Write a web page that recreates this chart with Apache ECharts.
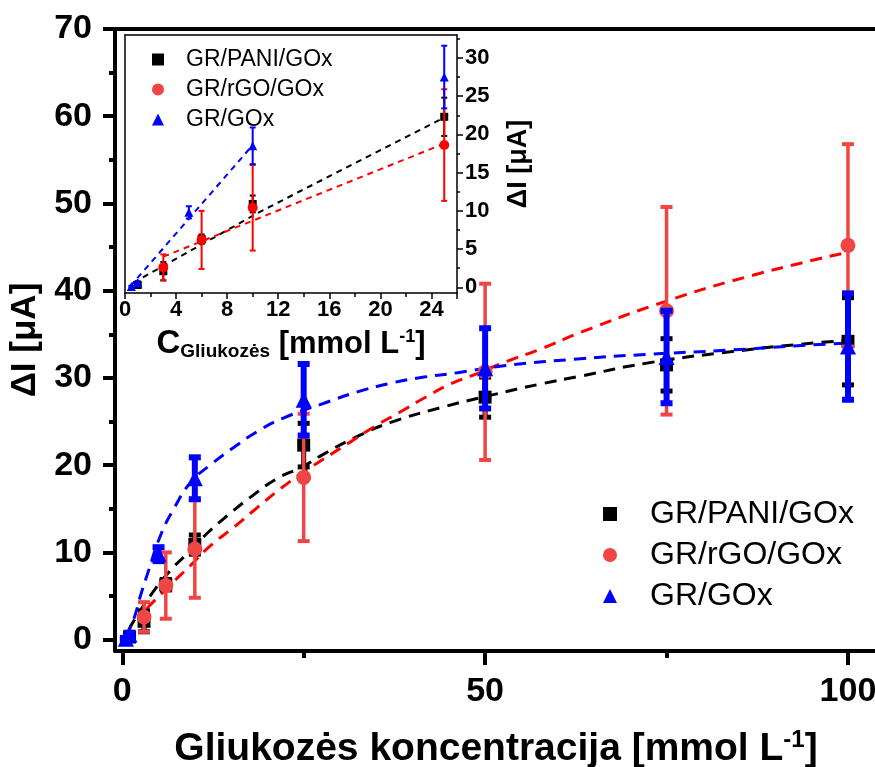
<!DOCTYPE html>
<html>
<head>
<meta charset="utf-8">
<script src="https://cdn.jsdelivr.net/npm/echarts@6/dist/echarts.min.js"></script>
<style>
  html, body { margin: 0; padding: 0; background: #fff; }
  #chart { width: 875px; height: 767px; }
</style>
</head>
<body>
<div id="chart"></div>
<script>
// measured points, glucose concentration in mmol/L, current in uA
var paniX = [1, 3, 6, 10, 25, 50, 75, 100];
var paniY = [0.3, 2.1, 6.3, 10.9, 22.3, 27.8, 31.5, 34.2];
var paniErr = [0.3, 1.2, 0.6, 1.1, 2.5, 2.3, 3.0, 5.0];

var rgoX = [3, 6, 10, 25, 50, 75, 100];
var rgoY = [2.6, 6.2, 10.4, 18.6, 30.7, 37.7, 45.2];
var rgoErr = [1.7, 3.8, 5.6, 7.3, 10.1, 11.9, 11.6];

var goxX = [0.5, 1, 5, 10, 25, 50, 75, 100];
var goxY = [0.1, 0.6, 9.8, 18.5, 27.5, 31.1, 32.4, 33.6];
var goxErr = [0.1, 0.2, 0.8, 2.4, 4.1, 4.6, 5.3, 6.1];

// fitted curves, points
var paniFitX = [0.9, 1.4, 4.1, 6.7, 9.0, 11.7, 14.9, 18.1, 21.4, 24.8, 27.8, 32.4, 37.0, 43.9, 50.7, 57.6, 63.1, 72.3, 83.8, 95.2, 100.3];
var paniFitY = [1.1, 1.9, 5.3, 8.0, 9.9, 12.2, 14.5, 16.6, 18.5, 19.8, 21.3, 23.3, 24.9, 26.6, 28.0, 29.3, 30.2, 31.7, 33.0, 34.0, 34.3];
var rgoFitX = [3.4, 6.4, 9.4, 12.2, 15.4, 18.4, 21.8, 24.8, 31.5, 35.1, 38.3, 41.6, 45.2, 48.9, 53.0, 57.6, 63.4, 74.6, 86.1, 99.4];
var rgoFitY = [3.6, 6.1, 8.5, 10.8, 12.9, 15.0, 17.3, 19.1, 22.7, 24.6, 26.1, 27.7, 29.3, 30.5, 31.9, 33.3, 35.3, 38.7, 41.6, 44.3];
var goxFitX = [0.5, 1.6, 2.5, 3.5, 5.3, 7.1, 9.5, 12.1, 15.3, 18.7, 22.2, 27.8, 32.4, 37.0, 41.6, 46.2, 52.6, 63.1, 72.3, 83.8, 95.3, 100.5];
var goxFitY = [0.3, 2.4, 5.0, 7.6, 12.0, 15.0, 18.1, 20.0, 22.0, 23.9, 25.4, 27.1, 28.4, 29.4, 30.1, 30.6, 31.4, 32.2, 32.7, 33.2, 33.8, 34.0];

// inset linear fits
var paniLinX = [0.65, 10.6, 25];
var paniLinY = [0.6, 9.9, 22.2];
var rgoLinX = [3.0, 25];
var rgoLinY = [4.0, 18.8];
var goxLinX = [0.4, 10];
var goxLinY = [0.1, 18.6];

var names = ['GR/PANI/GOx', 'GR/rGO/GOx', 'GR/GOx'];
var insetMaxX = 25;

// tick labels
var mainXTicks = [0, 50, 100];
var mainXMinor = [25, 75];
var mainYTicks = [0, 10, 20, 30, 40, 50, 60, 70];
var mainYMinor = [5, 15, 25, 35, 45, 55, 65];
var insetXTicks = [0, 4, 8, 12, 16, 20, 24];
var insetYTicks = [0, 5, 10, 15, 20, 25, 30];
var insetYMinor = [2.5, 7.5, 12.5, 17.5, 22.5, 27.5, 32.5];

var FONT = '"Liberation Sans", Arial, sans-serif';
var RED = '#f04545';

function pts(xs, ys, maxX) {
  var out = [];
  for (var i = 0; i < xs.length; i++) {
    if (maxX === undefined || xs[i] <= maxX) out.push([xs[i], ys[i]]);
  }
  return out;
}
function errPts(xs, ys, es, maxX) {
  var out = [];
  for (var i = 0; i < xs.length; i++) {
    if (maxX === undefined || xs[i] <= maxX) out.push([xs[i], ys[i], es[i]]);
  }
  return out;
}

function errorBars(color, lw, capW, capLw) {
  return function (params, api) {
    var x = api.value(0), y = api.value(1), e = api.value(2);
    var hi = api.coord([x, y + e]);
    var lo = api.coord([x, y - e]);
    var st = { stroke: color, lineWidth: lw };
    var cs = { stroke: color, lineWidth: capLw };
    return {
      type: 'group',
      children: [
        { type: 'line', shape: { x1: hi[0], y1: hi[1], x2: lo[0], y2: lo[1] }, style: st },
        { type: 'line', shape: { x1: hi[0] - capW / 2, y1: hi[1], x2: hi[0] + capW / 2, y2: hi[1] }, style: cs },
        { type: 'line', shape: { x1: lo[0] - capW / 2, y1: lo[1], x2: lo[0] + capW / 2, y2: lo[1] }, style: cs }
      ]
    };
  };
}

function errSeries(name, xi, yi, data, color, lw, capW, capLw, z) {
  return {
    name: name, type: 'custom', xAxisIndex: xi, yAxisIndex: yi,
    renderItem: errorBars(color, lw, capW, capLw),
    encode: { x: 0, y: 1 }, data: data, z: z, silent: true
  };
}
function fitSeries(name, xi, yi, data, color, w, dash, smooth) {
  return {
    name: name, type: 'line', xAxisIndex: xi, yAxisIndex: yi,
    data: data, showSymbol: false, smooth: smooth, z: 2, silent: true,
    lineStyle: { color: color, width: w, type: dash }
  };
}
function dotSeries(name, xi, yi, data, symbol, size, color, z) {
  return {
    name: name, type: 'scatter', xAxisIndex: xi, yAxisIndex: yi,
    data: data, symbol: symbol, symbolSize: size, z: z,
    itemStyle: { color: color, opacity: 1 }
  };
}

var chart = echarts.init(document.getElementById('chart'));

var lineBlack = { onZero: false, lineStyle: { color: '#000', width: 4 } };
var thin = { onZero: false, lineStyle: { color: '#000', width: 1.5 } };
var noLine = { show: false, onZero: false };

chart.setOption({
  backgroundColor: '#fff',
  animation: false,
  textStyle: { fontFamily: FONT },
  grid: [
    { left: 115, top: 29, width: 762, height: 622, show: false, outerBoundsMode: 'none', containLabel: false },
    { left: 125, top: 35, width: 332, height: 258, show: true, backgroundColor: '#fff', borderWidth: 0, outerBoundsMode: 'none', containLabel: false }
  ],
  legend: [
    {
      orient: 'vertical', left: 598, top: 493, itemGap: 9,
      itemWidth: 14, itemHeight: 14, selectedMode: false,
      textStyle: { fontSize: 32, color: '#000', lineHeight: 30, fontFamily: FONT, padding: [0, 0, 0, 28] },
      data: [
        { name: names[0], icon: 'rect', itemStyle: { color: '#000' } },
        { name: names[1], icon: 'circle', itemStyle: { color: RED } },
        { name: names[2], icon: 'triangle', itemStyle: { color: '#0000ff' } }
      ]
    },
    {
      orient: 'vertical', left: 147, top: 43, itemGap: 7, z: 20,
      itemWidth: 12, itemHeight: 12, selectedMode: false,
      textStyle: { fontSize: 23, color: '#000', lineHeight: 22, fontFamily: FONT, padding: [0, 0, 0, 17] },
      data: [
        { name: names[0], icon: 'rect', itemStyle: { color: '#000' } },
        { name: names[1], icon: 'circle', itemStyle: { color: RED } },
        { name: names[2], icon: 'triangle', itemStyle: { color: '#0000ff' } }
      ]
    }
  ],
  xAxis: [
    {
      gridIndex: 0, type: 'value', min: -1, max: 104, position: 'bottom',
      axisLine: lineBlack,
      axisTick: { customValues: mainXTicks, length: 14, lineStyle: { width: 4, color: '#000' } },
      axisLabel: { customValues: mainXTicks, fontSize: 34, fontWeight: 'bold', color: '#000', margin: 24, fontFamily: FONT },
      splitLine: { show: false },
      name: '{t|Gliukozės koncentracija [mmol L}{s|-1}{t|]}',
      nameLocation: 'middle', nameGap: 77,
      nameTextStyle: {
        rich: {
          t: { fontSize: 39, fontWeight: 'bold', color: '#000', fontFamily: FONT },
          s: { fontSize: 24, fontWeight: 'bold', color: '#000', fontFamily: FONT, padding: [0, 0, 18, 0] }
        }
      }
    },
    {
      gridIndex: 0, type: 'value', min: -1, max: 104, position: 'bottom',
      axisLine: noLine,
      axisTick: { customValues: mainXMinor, length: 7, lineStyle: { width: 4, color: '#000' } },
      axisLabel: { show: false }, splitLine: { show: false }
    },
    {
      gridIndex: 0, type: 'value', min: -1, max: 104, position: 'top',
      axisLine: lineBlack, axisTick: { show: false }, axisLabel: { show: false }, splitLine: { show: false }
    },
    {
      gridIndex: 1, type: 'value', min: 0, max: 26, interval: 4, position: 'bottom',
      axisLine: thin,
      axisTick: { length: 6, lineStyle: { width: 1.5, color: '#000' } },
      minorTick: { show: true, splitNumber: 2, length: 4, lineStyle: { width: 1.5, color: '#000' } },
      axisLabel: { customValues: insetXTicks, fontSize: 22, fontWeight: 'bold', color: '#000', margin: 6, fontFamily: FONT },
      splitLine: { show: false },
      name: '{c|C}{sub|Gliukozės}{t| [mmol L}{sup|-1}{t|]}',
      nameLocation: 'middle', nameGap: 34,
      nameTextStyle: {
        rich: {
          c: { fontSize: 33, fontWeight: 'bold', color: '#000', fontFamily: FONT },
          sub: { fontSize: 19, fontWeight: 'bold', color: '#000', fontFamily: FONT, padding: [15, 0, 0, 0] },
          t: { fontSize: 31, fontWeight: 'bold', color: '#000', fontFamily: FONT },
          sup: { fontSize: 18, fontWeight: 'bold', color: '#000', fontFamily: FONT, padding: [0, 0, 14, 0] }
        }
      }
    },
    {
      gridIndex: 1, type: 'value', min: 0, max: 26, position: 'top',
      axisLine: thin, axisTick: { show: false }, axisLabel: { show: false }, splitLine: { show: false }
    }
  ],
  yAxis: [
    {
      gridIndex: 0, type: 'value', min: -1.3, max: 70, position: 'left',
      axisLine: lineBlack,
      axisTick: { customValues: mainYTicks, length: 12, lineStyle: { width: 4, color: '#000' } },
      axisLabel: { customValues: mainYTicks, fontSize: 34, fontWeight: 'bold', color: '#000', margin: 23, fontFamily: FONT },
      splitLine: { show: false },
      name: 'ΔI [μA]', nameLocation: 'middle', nameGap: 68, nameRotate: 90,
      nameTextStyle: { fontSize: 35, fontWeight: 'bold', color: '#000', fontFamily: FONT }
    },
    {
      gridIndex: 0, type: 'value', min: -1.3, max: 70, position: 'left',
      axisLine: noLine,
      axisTick: { customValues: mainYMinor, length: 6, lineStyle: { width: 4, color: '#000' } },
      axisLabel: { show: false }, splitLine: { show: false }
    },
    {
      gridIndex: 1, type: 'value', min: -0.75, max: 33, position: 'right',
      axisLine: thin,
      axisTick: { customValues: insetYTicks, length: 6, lineStyle: { width: 1.5, color: '#000' } },
      axisLabel: { customValues: insetYTicks, fontSize: 22, fontWeight: 'bold', color: '#000', margin: 8, fontFamily: FONT },
      splitLine: { show: false },
      name: 'ΔI [μA]', nameLocation: 'middle', nameGap: 48, nameRotate: 90,
      nameTextStyle: { fontSize: 27, fontWeight: 'bold', color: '#000', fontFamily: FONT }
    },
    {
      gridIndex: 1, type: 'value', min: -0.75, max: 33, position: 'right',
      axisLine: noLine,
      axisTick: { customValues: insetYMinor, length: 3, lineStyle: { width: 1.5, color: '#000' } },
      axisLabel: { show: false }, splitLine: { show: false }
    },
    {
      gridIndex: 1, type: 'value', min: -0.75, max: 33, position: 'left',
      axisLine: thin, axisTick: { show: false }, axisLabel: { show: false }, splitLine: { show: false }
    }
  ],
  series: [
    // main plot
    fitSeries('fit-pani', 0, 0, pts(paniFitX, paniFitY), '#000', 3, [12, 8], true),
    fitSeries('fit-rgo', 0, 0, pts(rgoFitX, rgoFitY), '#ff0000', 3, [12, 8], true),
    fitSeries('fit-gox', 0, 0, pts(goxFitX, goxFitY), '#0000ff', 3, [12, 8], true),
    errSeries('err-pani', 0, 0, errPts(paniX, paniY, paniErr), '#000', 5, 12, 5, 3),
    dotSeries(names[0], 0, 0, pts(paniX, paniY), 'rect', 13, '#000', 4),
    errSeries('err-rgo', 0, 0, errPts(rgoX, rgoY, rgoErr), RED, 3.5, 12, 4, 5),
    dotSeries(names[1], 0, 0, pts(rgoX, rgoY), 'circle', 15, RED, 6),
    errSeries('err-gox', 0, 0, errPts(goxX, goxY, goxErr), '#0000ff', 6, 12, 6, 7),
    dotSeries(names[2], 0, 0, pts(goxX, goxY), 'triangle', 16, '#0000ff', 8),
    // inset
    fitSeries('lin-pani', 3, 2, pts(paniLinX, paniLinY), '#000', 2, [6, 5], false),
    fitSeries('lin-rgo', 3, 2, pts(rgoLinX, rgoLinY), '#ff0000', 2, [6, 5], false),
    fitSeries('lin-gox', 3, 2, pts(goxLinX, goxLinY), '#0000ff', 2, [6, 5], false),
    errSeries('ierr-pani', 3, 2, errPts(paniX, paniY, paniErr, insetMaxX), '#000', 2, 6, 2, 10),
    dotSeries(names[0], 3, 2, pts(paniX, paniY, insetMaxX), 'rect', 8, '#000', 11),
    errSeries('ierr-rgo', 3, 2, errPts(rgoX, rgoY, rgoErr, insetMaxX), '#ff0000', 2, 6, 2, 12),
    dotSeries(names[1], 3, 2, pts(rgoX, rgoY, insetMaxX), 'circle', 10, '#ff0000', 13),
    errSeries('ierr-gox', 3, 2, errPts(goxX, goxY, goxErr, insetMaxX), '#0000ff', 2, 6, 2, 14),
    dotSeries(names[2], 3, 2, pts(goxX, goxY, insetMaxX), 'triangle', 9, '#0000ff', 15)
  ]
});
</script>
</body>
</html>
